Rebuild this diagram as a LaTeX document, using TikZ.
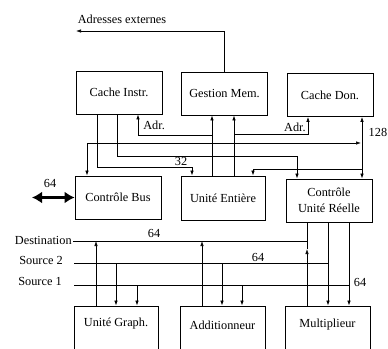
\documentclass[tikz,border=0pt]{standalone}
\usepackage{fontspec}
\setmainfont{Liberation Serif}
\usetikzlibrary{arrows.meta}
\begin{document}
\begin{tikzpicture}[x=1pt,y=-1pt, font=\fontsize{12.3}{16}\selectfont, line width=0.7pt,
  box/.style={draw, line width=0.8pt, minimum width=86pt, minimum height=43pt, inner sep=1pt, align=center},
  tip/.style={-{Latex[length=5pt,width=3.5pt]}},
  tips/.style={{Latex[length=5pt,width=3.5pt]}-{Latex[length=5pt,width=3.5pt]}},
  lbl/.style={inner sep=0pt},
  bigarrow/.style={line width=3pt, {Latex[length=10pt,width=12pt]}-{Latex[length=10pt,width=12pt]}}]
\useasboundingbox (0,0) rectangle (388,348);

% boxes
\node[box] (ci) at (119,92.5) {Cache Instr.};
\node[box] (gm) at (224.5,93.5) {Gestion Mem.};
\node[box] (cd) at (330,95) {Cache Don.};
\node[box] (cb) at (118,197.5) {Contrôle Bus};
\node[box, minimum width=84pt, minimum height=44pt] (ue) at (223,198) {Unité Entière};
\node[box] (cur) at (329,200.5) {Contrôle\\Unité Réelle};
\node[box, minimum width=84pt, minimum height=46pt] (ug) at (116,329) {\raisebox{5pt}[\height][\depth]{Unité Graph.}};
\node[box, minimum width=85pt, minimum height=46pt] (ad) at (222.5,329) {\raisebox{4pt}[\height][\depth]{Additionneur}};
\node[box, minimum width=85pt, minimum height=46pt] (mu) at (327.5,329) {\raisebox{4pt}[\height][\depth]{Multiplieur}};

% labels
\node[lbl] (ae) at (122,19) {Adresses externes};
\node[lbl] (n32) at (181,161) {32};
\node[lbl, anchor=west] (adr1) at (143,125) {Adr.};
\node[lbl, anchor=east] (adr2) at (306,127) {Adr.};
\node[lbl, anchor=east] (n128) at (387.5,132) {128};
\node[lbl] (n64a) at (50,183) {64};
\node[lbl, anchor=east] (dest) at (72,240) {Destination};
\node[lbl] (src2) at (41,260) {Source 2};
\node[lbl] (src1) at (40,281) {Source 1};
\node[lbl] (n64b) at (154,233) {64};
\node[lbl] (n64c) at (258,257) {64};
\node[lbl] (n64d) at (360,282) {64};

% free ends
\coordinate (aeEnd) at (76,31);
\coordinate (busL) at (32,197.5);
\coordinate (dL) at (73,241);
\coordinate (s2L) at (74,263);
\coordinate (s1L) at (74,285);

% upper connectors
\draw[tip] (gm.north) |- (aeEnd);
\draw[tip] (ci.south -| 97,0) |- (192,167) -- (ue.north -| 192,0);
\draw[tip] (ci.south -| 117,0) |- (297,156) -- (cur.north -| 297,0);
\draw[tips] (361,143) -- (87,143) -- (cb.north -| 87,0);
\draw[tip] (ue.north -| 212,0) -- (gm.south -| 212,0);
\draw[tip] (212,135) -- (138,135) -- (ci.south -| 138,0);
\draw[tip] (ue.north -| 234,0) -- (gm.south -| 234,0);
\draw[tip] (234,134) -- (308,134) -- (cd.south -| 308,0);
\draw[tips] (cd.south -| 362,0) -- (cur.north -| 362,0);
\draw[tip] (362,169) -- (253,169) -- (ue.north -| 253,0);

% external bus
\draw[bigarrow] (busL) -- (cb.west);

% internal buses
\draw (dL) -- (307,241);
\draw (s2L) -- (328,263);
\draw (s1L) -- (349,285);
\draw[tip] (ug.north -| 96,0) -- (96,241);
\draw[tip] (116,263) -- (ug.north -| 116,0);
\draw[tip] (137,285) -- (ug.north -| 137,0);
\draw[tip] (ad.north -| 202,0) -- (202,241);
\draw[tip] (222,263) -- (ad.north -| 222,0);
\draw[tip] (242,285) -- (ad.north -| 242,0);
\draw[tip] (mu.north -| 307,0) -- (307,249);
\draw (307,249) -- (cur.south -| 307,0);
\draw[tip] (cur.south -| 328,0) -- (mu.north -| 328,0);
\draw[tip] (cur.south -| 349,0) -- (mu.north -| 349,0);
\end{tikzpicture}
\end{document}
